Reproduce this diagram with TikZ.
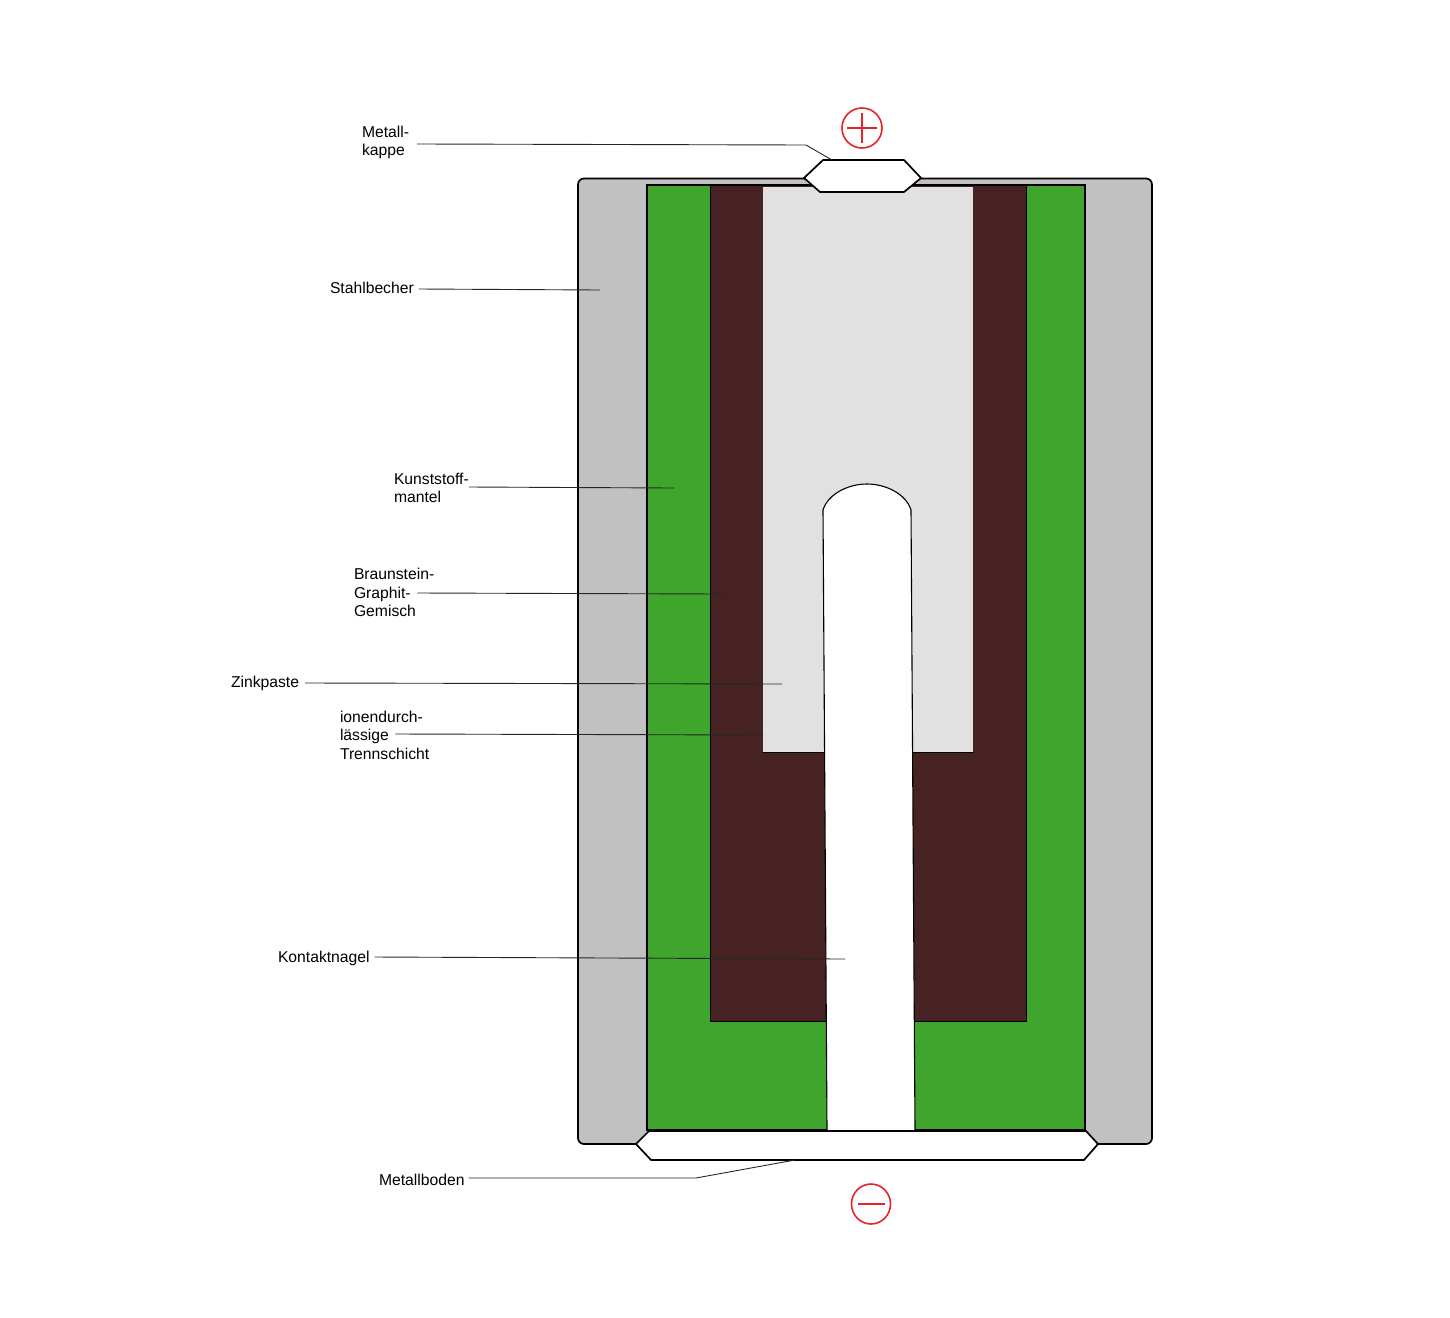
\documentclass[tikz,border=0pt]{standalone}
\usepackage{fontspec}
\setmainfont{Liberation Sans}
\definecolor{casegray}{HTML}{C1C1C1}
\definecolor{mantelgreen}{HTML}{3FA52C}
\definecolor{braunstein}{HTML}{472222}
\definecolor{zinkgray}{HTML}{E1E1E1}
\definecolor{polered}{HTML}{E8222A}

\begin{document}
\begin{tikzpicture}[
        x=0.5pt, y=-0.5pt,
        part/.style={draw=black, line width=0.4pt},
        metal/.style={draw=black, fill=white, line width=0.85pt, line join=round},
        label/.style={font=\fontsize{7.85}{9.25}\selectfont, align=left, anchor=west, inner sep=0pt, outer sep=0pt},
        leader/.style={draw=black!85, line width=0.45pt},
        pole/.style={draw=polered, line width=0.8pt}
    ]
        \useasboundingbox (0,0) rectangle (1450,1317);

        % layers of the cell
        \draw[part, fill=casegray, line width=0.85pt, rounded corners=3pt] (578,178.5) rectangle (1152,1144);
        \draw[part, fill=mantelgreen, line width=0.6pt] (647,185) rectangle (1085,1130);
        \draw[part, fill=braunstein] (710,185) rectangle (1026,1021);
        \draw[part, fill=zinkgray, draw=none] (763,187) rectangle (973,752);
        \draw[black, line width=0.4pt] (763,752) -- (973,752);
        \draw[black, line width=0.8pt] (647,185.5) -- (1085,185.5);

        % contact nail
        \draw[part, fill=white, line width=0.55pt] (827,1130) -- (823,510) .. controls (828,494) and (848,484) .. (867,484)
            .. controls (886,484) and (906,494) .. (911,510) -- (915,1130);

        % metal cap and base
        \draw[metal] (804,178) -- (823,160) -- (904,160) -- (921,178) -- (904,192) -- (820,192) -- cycle;
        \draw[metal] (636,1144) -- (649,1131) -- (1086,1131) -- (1098,1144) -- (1084,1160) -- (651,1160) -- cycle;

        % poles
        \draw[pole] (862,128) ellipse (20 and 20);
        \draw[pole] (847,128) -- (877,128);
        \draw[pole] (862,113) -- (862,143);
        \draw[pole] (871,1204) ellipse (19.5 and 20);
        \draw[pole] (858,1204) -- (885,1204);

        % labels
        \node[label] (kappe) at (362,142.5) {Metall-\\kappe};
        \node[label] (stahl) at (330,288) {Stahlbecher};
        \node[label] (mantel) at (394,488) {Kunststoff-\\mantel};
        \node[label] (gemisch) at (354,592.5) {Braunstein-\\Graphit-\\Gemisch};
        \node[label] (zink) at (231,683) {Zinkpaste};
        \node[label] (trenn) at (340,735) {ionendurch-\\lässige\\Trennschicht};
        \node[label] (nagel) at (278,958) {Kontaktnagel};
        \node[label] (boden) at (379,1180) {Metallboden};

        % free ends of the leaders
        \coordinate (kappeEnd) at (832,160);
        \coordinate (stahlEnd) at (600,290);
        \coordinate (mantelEnd) at (674,488);
        \coordinate (gemischEnd) at (722,594);
        \coordinate (zinkEnd) at (782,684);
        \coordinate (trennEnd) at (763,735);
        \coordinate (nagelEnd) at (845,959);
        \coordinate (bodenEnd) at (795,1160);

        % leaders
        \draw[leader] ([shift={(4pt,-0.75pt)}]kappe.east) -- (806,145) -- (kappeEnd);
        \draw[leader] ([shift={(2.5pt,-0.5pt)}]stahl.east) -- (stahlEnd);
        \draw[leader] ([yshift=0.5pt]mantel.east) -- (mantelEnd);
        \draw[leader] ([shift={(-8.5pt,-0.25pt)}]gemisch.east) -- (gemischEnd);
        \draw[leader] ([xshift=3pt]zink.east) -- (zinkEnd);
        \draw[leader] ([shift={(-17pt,0.5pt)}]trenn.east) -- (trennEnd);
        \draw[leader] ([shift={(2.5pt,0.5pt)}]nagel.east) -- (nagelEnd);
        \draw[leader] ([shift={(2pt,1pt)}]boden.east) -- (696,1178) -- (bodenEnd);
    \end{tikzpicture}
\end{document}
